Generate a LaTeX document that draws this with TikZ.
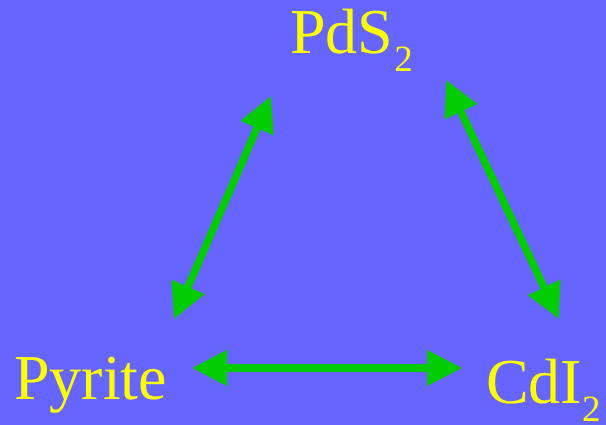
\documentclass[tikz,border=0pt]{standalone}
\usepackage{fontspec}
\setmainfont{Liberation Serif}
\usetikzlibrary{arrows.meta}
\definecolor{bgblue}{HTML}{6666FF}
\definecolor{arrgreen}{HTML}{00CC00}
\definecolor{txtyellow}{HTML}{FFFF00}
\newcommand{\subtwo}{\raisebox{-18pt}{\fontsize{37}{37}\selectfont 2}}
\begin{document}
\begin{tikzpicture}[x=1pt,y=-1pt,
  label/.style={anchor=base west,inner sep=0pt,text=txtyellow,font=\fontsize{64}{64}\selectfont},
  dblarrow/.style={draw=arrgreen,line width=7.5pt,{Triangle[length=35pt,width=34pt]}-{Triangle[length=35pt,width=34pt]}}]
\fill[bgblue] (0,0) rectangle (606,425);
\useasboundingbox (0,0) rectangle (606,425);
\node[label] (pds) at (290,54) {PdS\kern1pt\subtwo};
\node[label] (pyrite) at (14,399) {Pyrite};
\node[label] (cdi) at (486,403) {CdI\kern0pt\subtwo};
\coordinate (ltop) at (271,96);
\coordinate (lbot) at (174,319);
\coordinate (rtop) at (446,80);
\coordinate (rbot) at (559,319);
\coordinate (hl) at (192,368);
\coordinate (hr) at (462,368);
\draw[dblarrow] (lbot) -- (ltop);
\draw[dblarrow] (rtop) -- (rbot);
\draw[dblarrow] (hl) -- (hr);
\end{tikzpicture}
\end{document}
